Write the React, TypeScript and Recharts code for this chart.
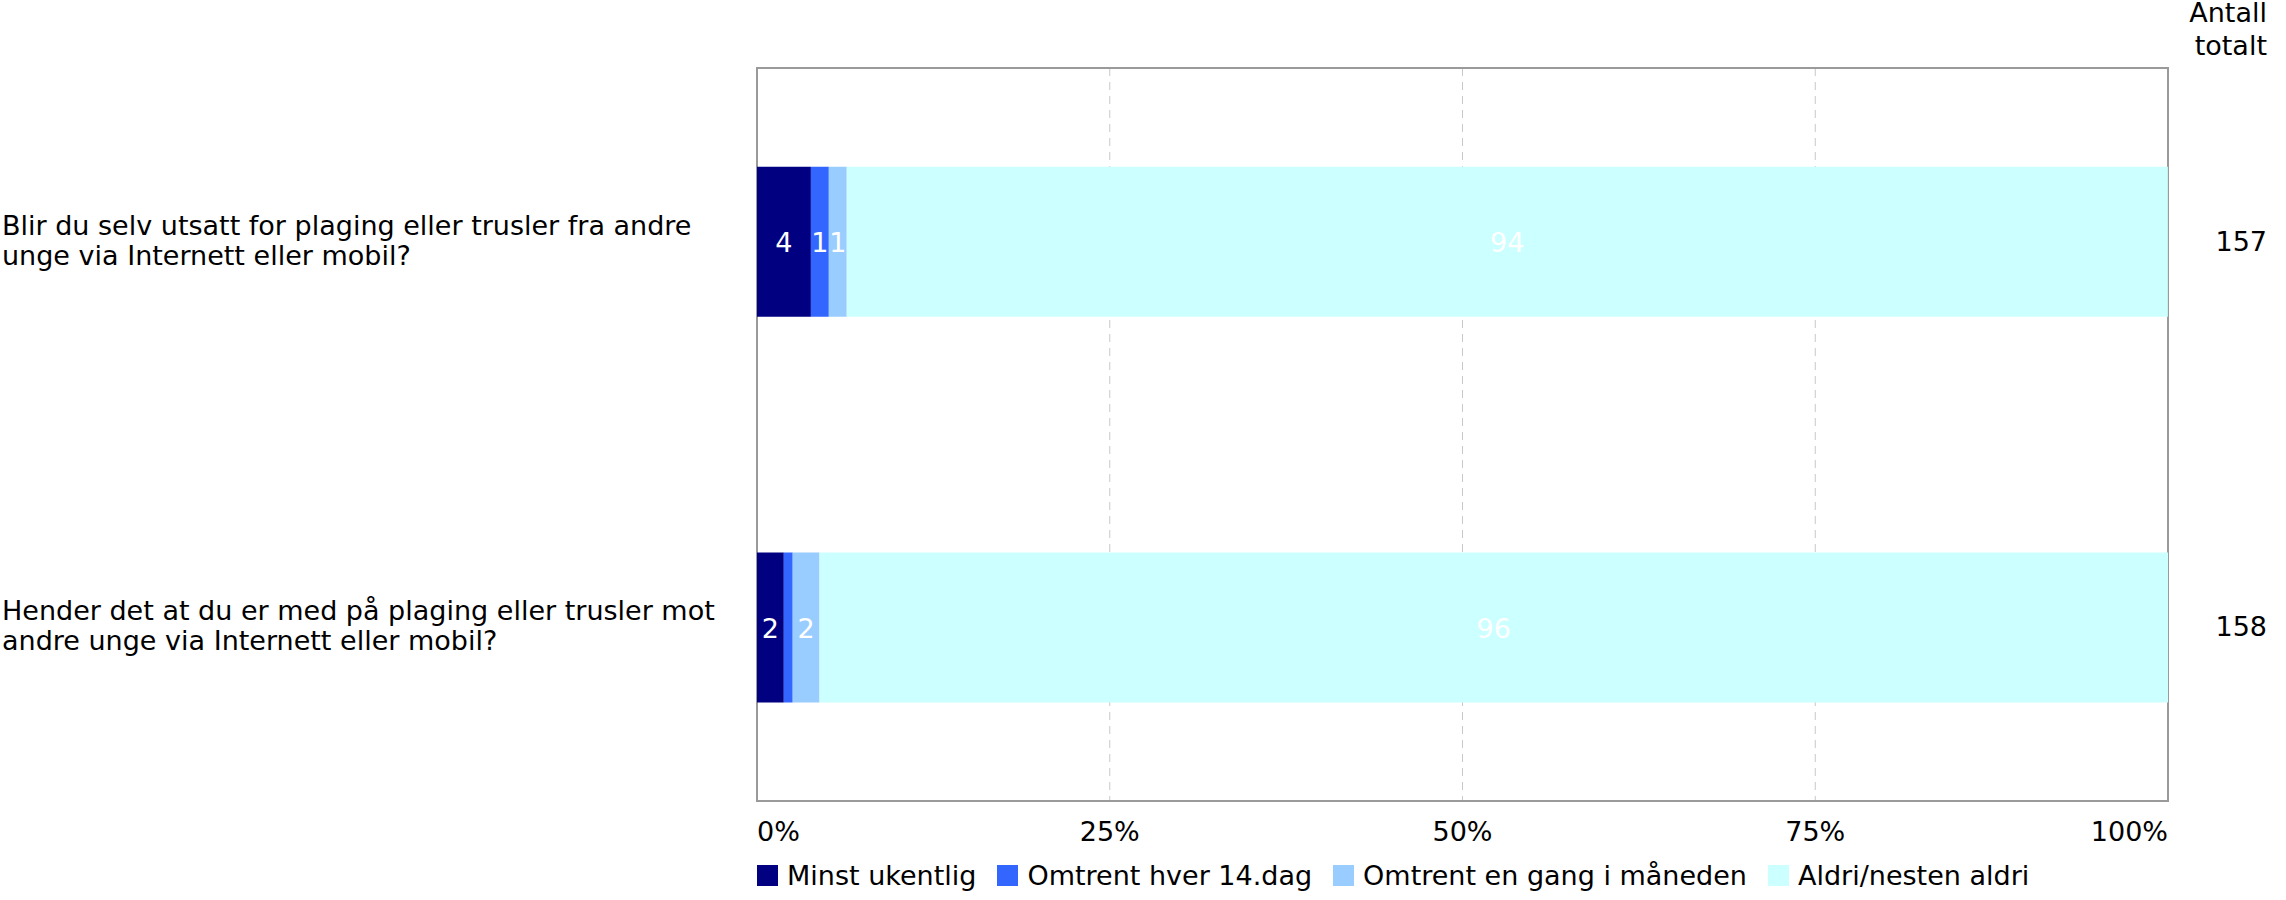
import React from "react";
import {
  BarChart, Bar, XAxis, YAxis, CartesianGrid, Legend, LabelList, ReferenceArea,
} from "recharts";

// question labels, already split on the lines shown in the chart
const questionLines = [
  ["Blir du selv utsatt for plaging eller trusler fra andre", "unge via Internett eller mobil?"],
  ["Hender det at du er med på plaging eller trusler mot", "andre unge via Internett eller mobil?"],
];
const counts = [157, 158];

// percent of respondents per answer
const minstUkentlig = [3.82, 1.9];
const hver14dag = [1.27, 0.63];
const gangMaaned = [1.27, 1.9];
const aldri = [93.63, 95.57];

const series = [
  { key: "minst", name: "Minst ukentlig", color: "#000080" },
  { key: "hver14", name: "Omtrent hver 14.dag", color: "#3366FF" },
  { key: "gang", name: "Omtrent en gang i måneden", color: "#99CCFF" },
  { key: "aldri", name: "Aldri/nesten aldri", color: "#CCFFFF" },
];

const xTicks = [0, 25, 50, 75, 100];

const data = questionLines.map((_, i) => ({
  idx: i,
  minst: minstUkentlig[i],
  hver14: hver14dag[i],
  gang: gangMaaned[i],
  aldri: aldri[i],
}));

const FONT = "'DejaVu Sans', Verdana, sans-serif";
const FS = 27;

const QuestionTick = (props: any) => {
  const lines = questionLines[props.payload.value] || [];
  return (
    <text x={props.x - 755} y={props.y} textAnchor="start" fontFamily={FONT} fontSize={FS} fill="#000">
      {lines.map((l, i) => (
        <tspan key={i} x={props.x - 755} dy={i === 0 ? -7 : 30}>{l}</tspan>
      ))}
    </text>
  );
};

const CountTick = (props: any) => (
  <text x={props.x + 99} y={props.y} dy={9} textAnchor="end" fontFamily={FONT} fontSize={FS} fill="#000">
    {counts[props.payload.value]}
  </text>
);

const PctTick = (props: any) => {
  const v = props.payload.value;
  const anchor = v === 0 ? "start" : v === 100 ? "end" : "middle";
  return (
    <text x={props.x} y={props.y + 40} textAnchor={anchor} fontFamily={FONT} fontSize={FS} fill="#000">
      {v}%
    </text>
  );
};

const SegLabel = (props: any) => {
  const { x, y, width, height, value } = props;
  if (width < 12) return null;
  return (
    <text x={x + width / 2} y={y + height / 2} dy={10} textAnchor="middle" fontFamily={FONT} fontSize={FS} fill="#fff">
      {Math.round(value)}
    </text>
  );
};

const LegendBox = () => (
  <div style={{ display: "flex", fontFamily: FONT, fontSize: FS, color: "#000", whiteSpace: "nowrap" }}>
    {series.map((s) => (
      <div key={s.key} style={{ display: "flex", alignItems: "center", marginRight: 21, height: 20 }}>
        <span style={{ width: 21, height: 21, background: s.color, marginRight: 9, display: "inline-block" }} />
        <span>{s.name}</span>
      </div>
    ))}
  </div>
);

export default function App() {
  return (
    <div style={{ position: "absolute", left: 0, top: 0, width: 2286, height: 900, background: "#fff" }}>
      <div style={{ position: "absolute", right: 19, top: -4, textAlign: "right", fontFamily: FONT, fontSize: FS, lineHeight: "33px" }}>
        Antall<br />totalt
      </div>
      <BarChart
        width={2286}
        height={900}
        data={data}
        layout="vertical"
        margin={{ top: 68, right: 0, bottom: 0, left: 0 }}
      >
        <CartesianGrid horizontal={false} strokeDasharray="8 6" stroke="#c8c8c8" />
        <XAxis
          type="number"
          domain={[0, 100]}
          ticks={xTicks}
          height={99}
          axisLine={false}
          tickLine={false}
          tickSize={0}
          tickMargin={0}
          tick={<PctTick />}
          interval={0}
        />
        <YAxis
          type="number"
          dataKey="idx"
          domain={[-0.45, 1.45]}
          ticks={[0, 1]}
          width={757}
          axisLine={false}
          tickLine={false}
          tickSize={0}
          tickMargin={0}
          tick={<QuestionTick />}
          interval={0}
        />
        <YAxis
          yAxisId="r"
          orientation="right"
          type="number"
          dataKey="idx"
          domain={[-0.45, 1.45]}
          ticks={[0, 1]}
          width={118}
          axisLine={false}
          tickLine={false}
          tickSize={0}
          tickMargin={0}
          tick={<CountTick />}
          interval={0}
        />
        {series.map((s) => (
          <Bar key={s.key} dataKey={s.key} name={s.name} stackId="a" fill={s.color} barSize={150} isAnimationActive={false}>
            <LabelList dataKey={s.key} content={<SegLabel />} />
          </Bar>
        ))}
        <ReferenceArea x1={0} x2={100} y1={-0.45} y2={1.45} fill="none" stroke="#9a9a9a" strokeWidth={2} ifOverflow="visible" />
        <Legend
          layout="horizontal"
          verticalAlign="middle"
          align="center"
          content={<LegendBox />}
          wrapperStyle={{ top: 865, left: 757, width: "auto" }}
        />
      </BarChart>
    </div>
  );
}
